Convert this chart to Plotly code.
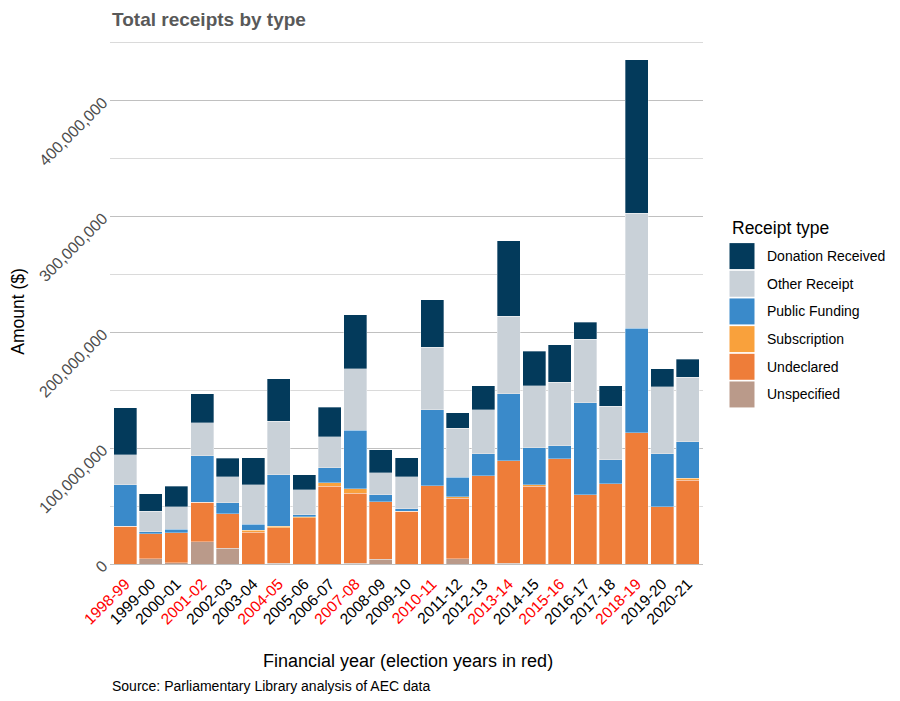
import plotly.graph_objects as go

years = ["1998-99", "1999-00", "2000-01", "2001-02", "2002-03", "2003-04", "2004-05",
         "2005-06", "2006-07", "2007-08", "2008-09", "2009-10", "2010-11", "2011-12",
         "2012-13", "2013-14", "2014-15", "2015-16", "2016-17", "2017-18", "2018-19",
         "2019-20", "2020-21"]
election_years = ["1998-99", "2001-02", "2004-05", "2007-08", "2010-11", "2013-14",
                  "2015-16", "2018-19"]

# values in millions of dollars
unspecified = [0, 4.5, 1.0, 19.4, 13.4, 0, 0.7, 0, 0, 0.5, 3.9, 0, 0, 4.7, 0, 0.6,
               0, 0, 0, 0, 0, 0, 0]
undeclared = [32.4, 21.6, 26.2, 33.9, 30.2, 27.4, 30.7, 40.1, 67.1, 60.6, 49.8, 45.6,
              67.7, 52.1, 76.4, 88.7, 67.1, 91.0, 60.0, 69.2, 113.2, 49.6, 72.3]
subscription = [0, 0, 0, 0, 0, 1.8, 1.0, 0.8, 2.9, 3.8, 0, 0, 0, 1.4, 0, 0, 1.5, 0,
                0, 0, 0, 0, 1.7]
public_funding = [36.2, 1.7, 2.6, 40.3, 9.2, 5.1, 44.8, 1.7, 13.3, 50.5, 6.3, 2.0,
                  65.6, 16.7, 18.9, 57.8, 31.7, 11.2, 79.1, 21.0, 90.3, 45.7, 31.7]
other_receipt = [25.9, 17.8, 19.5, 28.2, 22.7, 34.3, 46.0, 21.3, 26.4, 53.3, 18.7, 27.6,
                 53.8, 42.3, 38.0, 66.7, 53.7, 54.7, 54.9, 46.0, 99.5, 57.6, 55.5]
donation_received = [40.3, 15.2, 17.8, 25.3, 15.8, 23.3, 36.6, 13.0, 25.6, 46.3, 19.8,
                     16.4, 41.1, 13.2, 20.7, 65.1, 29.6, 32.2, 14.6, 17.8, 132.3, 15.5, 15.5]

series_names = ["Unspecified", "Undeclared", "Subscription", "Public Funding",
                "Other Receipt", "Donation Received"]
series_values = [unspecified, undeclared, subscription, public_funding, other_receipt,
                 donation_received]
series_colors = ["#BA9A8A", "#EE7D39", "#F9A13C", "#3A8ACA", "#C9D1D8", "#033A5B"]

fig = go.Figure()
for name, vals, col in zip(series_names, series_values, series_colors):
    fig.add_trace(go.Bar(
        x=years, y=[v * 1e6 for v in vals], name=name,
        marker=dict(color=col, line=dict(color="rgba(255,255,255,0.55)", width=0.6)),
        showlegend=False,
    ))

ticktext = [f"<span style='color:red'>{y}</span>" if y in election_years else y for y in years]

# page body adds an 8px offset; figure is sized so the plot area sits at
# x 110..703, y 37..564.5 of the window
fig.update_layout(
    barmode="stack",
    bargap=0.1,
    width=892, height=693,
    margin=dict(l=102, r=197, t=29, b=136.5),
    paper_bgcolor="white",
    plot_bgcolor="white",
    font=dict(family="Liberation Sans, Arial, sans-serif", color="black"),
    xaxis=dict(
        type="category",
        range=[-0.6, 22.6], tickmode="array", tickvals=years, ticktext=ticktext,
        tickangle=-45, tickfont=dict(size=15.5, color="black"),
        ticklabelstandoff=7,
        showgrid=False, zeroline=False, showline=False, ticks="",
    ),
    yaxis=dict(
        range=[0, 455e6], dtick=100e6, tick0=0, tickformat=",d",
        tickangle=-45, tickfont=dict(size=16, color="#4D4D4D"),
        ticklabelstandoff=6,
        showgrid=True, gridcolor="#C0C0C0", gridwidth=1,
        zeroline=True, zerolinecolor="#C0C0C0", zerolinewidth=1,
        minor=dict(dtick=50e6, tick0=0, showgrid=True, gridcolor="#DADADA", gridwidth=1),
        ticks="", showline=False,
    ),
)

PH = 527.5  # plot height in px
PW = 593.0  # plot width in px

annotations = [
    dict(text="<b>Total receipts by type</b>", x=0, y=(564.5 - 19.5) / PH, xref="paper",
         yref="paper", xanchor="left", yanchor="middle", showarrow=False,
         font=dict(size=19, color="#595959")),
    dict(text="Amount ($)", x=(18 - 110) / PW, y=(564.5 - 312) / PH, xref="paper",
         yref="paper", xanchor="center", yanchor="middle", textangle=-90,
         showarrow=False, font=dict(size=17.5, color="black")),
    dict(text="Financial year (election years in red)", x=0.503, y=(564.5 - 662) / PH,
         xref="paper", yref="paper", xanchor="center", yanchor="middle",
         showarrow=False, font=dict(size=18, color="black")),
    dict(text="Source: Parliamentary Library analysis of AEC data", x=0,
         y=(564.5 - 687) / PH, xref="paper", yref="paper", xanchor="left",
         yanchor="middle", showarrow=False, font=dict(size=14, color="black")),
    dict(text="Receipt type", x=(730 - 110) / PW, y=(564.5 - 228) / PH, xref="paper",
         yref="paper", xanchor="left", yanchor="middle", showarrow=False,
         font=dict(size=17.5, color="black")),
]

# manual legend (top = Donation Received)
shapes = []
legend_order = list(zip(series_names, series_colors))[::-1]
for i, (name, col) in enumerate(legend_order):
    cy = 256.3 + 27.7 * i
    shapes.append(dict(type="rect", xref="paper", yref="paper",
                       x0=(729.5 - 110) / PW, x1=(754.5 - 110) / PW,
                       y0=(564.5 - (cy + 13)) / PH, y1=(564.5 - (cy - 13)) / PH,
                       fillcolor=col, line=dict(width=0)))
    annotations.append(dict(text=name, x=(765 - 110) / PW, y=(564.5 - cy) / PH,
                            xref="paper", yref="paper", xanchor="left", yanchor="middle",
                            showarrow=False, font=dict(size=14, color="black")))

fig.update_layout(annotations=annotations, shapes=shapes)

fig.write_html("out.html")
